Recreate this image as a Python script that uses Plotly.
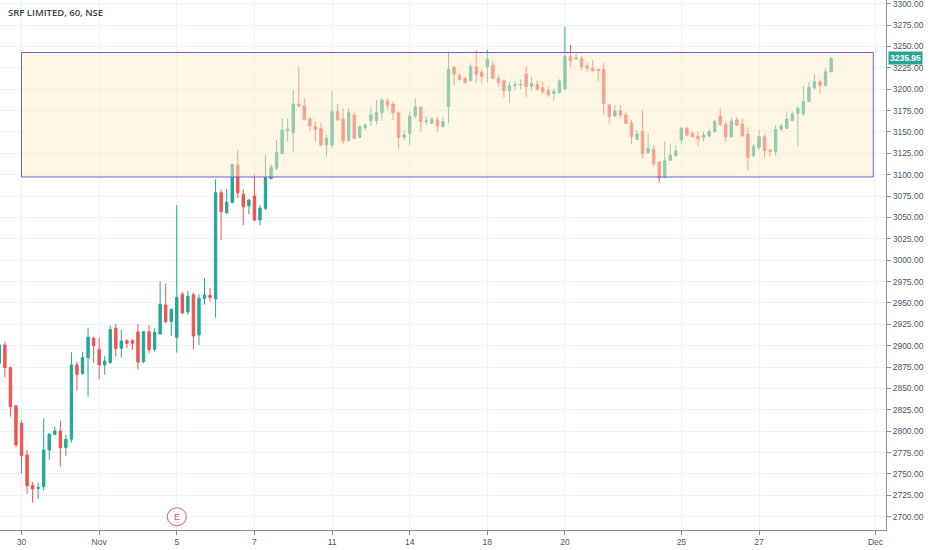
import plotly.graph_objects as go

# SRF LIMITED, 60 min bars, NSE. Oct 29 (last 4 bars) .. Nov 28 2019
# one entry per hourly bar, bar 0 = Oct 30 09:15
opens = [
    2879.4, 2900.9, 2874.3, 2829.5,
    2809.2, 2772.2, 2736.3, 2733.0, 2735.1, 2778.0, 2796.4,
    2800.3, 2780.8, 2790.5, 2877.5, 2867.6, 2886.0, 2908.7,
    2895.5, 2877.5, 2880.1, 2920.3, 2897.0, 2905.8, 2905.8,
    2916.0, 2881.3, 2916.4, 2895.7, 2913.6, 2947.6, 2928.1,
    2909.7, 2960.2, 2939.5, 2959.5, 2912.5, 2955.0, 2958.8,
    2954.6, 3079.0, 3055.6, 3067.7, 3111.3, 3077.1, 3063.4,
    3075.1, 3047.0, 3060.7, 3095.6, 3107.4, 3124.9, 3151.4,
    3149.1, 3182.6, 3180.3, 3165.1, 3156.1, 3154.2, 3134.7,
    3134.7, 3173.7, 3165.1, 3139.7, 3169.8, 3143.6, 3154.9,
    3163.1, 3163.1, 3172.5, 3186.1, 3182.6, 3172.5, 3143.6,
    3148.3, 3168.6, 3178.7, 3162.0, 3160.0, 3163.9, 3156.1,
    3179.5, 3225.5, 3215.8, 3212.7, 3209.9, 3226.3, 3219.7,
    3226.3, 3228.3, 3212.7, 3209.9, 3198.2, 3204.1, 3204.9,
    3217.7, 3202.9, 3205.6, 3201.7, 3198.2, 3195.1, 3195.9,
    3200.2, 3238.0, 3235.3, 3236.0, 3227.1, 3224.4, 3223.2,
    3223.2, 3181.5, 3168.6, 3174.8, 3169.8, 3160.0, 3141.3,
    3150.3, 3125.7, 3129.6, 3114.8, 3097.0, 3116.7, 3122.1,
    3140.5, 3154.2, 3148.3, 3145.2, 3143.6, 3145.2, 3150.3,
    3168.6, 3158.8, 3144.4, 3163.9, 3159.2, 3147.5, 3122.1,
    3132.0, 3144.4, 3128.8, 3126.9, 3153.0, 3154.2, 3163.1,
    3171.7, 3170.9, 3185.4, 3201.4, 3208.8, 3204.1, 3220.5,
]
highs = [
    2905.0, 2904.8, 2875.5, 2830.5,
    2813.0, 2778.0, 2740.2, 2739.8, 2815.0, 2797.5, 2805.3,
    2812.3, 2795.6, 2892.3, 2881.4, 2892.3, 2921.0, 2910.6,
    2909.0, 2888.0, 2923.5, 2925.3, 2918.3, 2907.5, 2908.0,
    2925.3, 2916.8, 2924.0, 2920.4, 2974.9, 2972.9, 2943.5,
    3064.6, 2963.1, 2964.0, 2962.0, 2960.0, 2979.0, 2967.5,
    3094.6, 3082.9, 3083.3, 3113.0, 3128.9, 3082.9, 3071.0,
    3100.8, 3064.5, 3123.0, 3112.0, 3140.5, 3165.9, 3165.9,
    3199.0, 3226.3, 3189.3, 3167.8, 3162.0, 3160.8, 3146.4,
    3198.2, 3182.6, 3177.6, 3177.6, 3173.7, 3158.0, 3160.0,
    3178.7, 3187.3, 3189.3, 3189.3, 3185.4, 3173.7, 3152.2,
    3173.7, 3189.3, 3180.3, 3167.8, 3167.8, 3167.8, 3167.8,
    3242.7, 3227.1, 3219.3, 3213.8, 3230.2, 3245.0, 3223.2,
    3245.8, 3233.3, 3216.6, 3211.5, 3208.8, 3209.9, 3211.5,
    3226.3, 3214.6, 3209.9, 3208.8, 3202.9, 3201.0, 3211.5,
    3273.1, 3251.7, 3241.1, 3238.8, 3231.0, 3234.1, 3224.4,
    3231.0, 3182.6, 3181.5, 3181.5, 3173.7, 3164.0, 3152.2,
    3175.2, 3148.3, 3134.3, 3115.2, 3139.0, 3136.0, 3134.7,
    3156.1, 3156.1, 3150.3, 3150.3, 3150.3, 3153.0, 3164.0,
    3177.6, 3162.0, 3167.0, 3167.8, 3165.9, 3155.3, 3135.8,
    3153.0, 3147.5, 3129.6, 3158.0, 3160.0, 3173.7, 3173.7,
    3180.3, 3203.7, 3208.8, 3217.7, 3211.5, 3224.4, 3238.0,
]
lows = [
    2874.0, 2863.0, 2817.0, 2781.0,
    2750.7, 2726.6, 2716.4, 2720.7, 2730.5, 2766.3, 2795.0,
    2758.5, 2771.0, 2786.6, 2847.4, 2866.0, 2840.4, 2880.0,
    2860.6, 2866.0, 2879.0, 2887.1, 2886.3, 2897.0, 2895.0,
    2872.3, 2879.4, 2891.0, 2893.0, 2913.0, 2926.0, 2911.5,
    2891.8, 2936.6, 2936.0, 2895.7, 2900.8, 2948.0, 2951.5,
    2932.7, 3023.6, 3054.0, 3066.0, 3072.4, 3041.0, 3054.0,
    3045.5, 3041.0, 3058.5, 3094.5, 3105.5, 3124.9, 3138.6,
    3126.9, 3178.5, 3163.0, 3151.4, 3138.6, 3132.7, 3121.0,
    3130.8, 3163.1, 3135.8, 3138.6, 3141.3, 3142.5, 3152.2,
    3156.9, 3159.2, 3163.1, 3176.4, 3163.9, 3130.8, 3139.7,
    3134.7, 3165.9, 3150.0, 3158.0, 3159.2, 3150.3, 3155.3,
    3160.0, 3204.9, 3209.9, 3206.8, 3209.9, 3207.6, 3206.8,
    3207.6, 3211.5, 3202.9, 3190.4, 3184.2, 3199.0, 3199.8,
    3190.4, 3198.2, 3198.2, 3194.3, 3191.2, 3186.5, 3195.1,
    3199.0, 3226.3, 3233.3, 3221.6, 3220.5, 3220.5, 3208.8,
    3169.8, 3160.0, 3167.8, 3165.9, 3159.2, 3135.8, 3140.5,
    3119.0, 3124.5, 3109.3, 3090.6, 3096.5, 3116.3, 3121.0,
    3135.8, 3145.2, 3143.6, 3133.5, 3138.6, 3144.4, 3149.1,
    3156.9, 3138.6, 3143.6, 3156.9, 3145.2, 3105.4, 3120.2,
    3128.8, 3121.0, 3121.0, 3121.8, 3151.4, 3154.2, 3163.1,
    3133.5, 3168.6, 3185.4, 3199.8, 3194.3, 3202.9, 3219.7,
]
closes = [
    2900.9, 2874.3, 2828.7, 2783.9,
    2771.4, 2736.3, 2732.4, 2734.0, 2778.0, 2796.4, 2800.3,
    2780.8, 2790.5, 2877.5, 2866.5, 2886.0, 2910.0, 2900.0,
    2877.5, 2882.0, 2918.8, 2896.5, 2905.4, 2902.7, 2902.7,
    2880.8, 2916.4, 2895.5, 2915.7, 2948.5, 2928.1, 2942.5,
    2956.5, 2938.5, 2957.8, 2911.3, 2955.5, 2959.3, 2956.3,
    3079.0, 3056.8, 3067.7, 3112.1, 3079.0, 3062.6, 3070.4,
    3047.0, 3060.7, 3096.5, 3108.6, 3126.2, 3152.2, 3153.4,
    3182.6, 3180.3, 3164.7, 3156.9, 3153.0, 3134.7, 3142.5,
    3173.7, 3163.9, 3139.7, 3172.5, 3142.5, 3156.1, 3158.0,
    3169.8, 3172.5, 3187.3, 3181.4, 3172.5, 3143.6, 3146.4,
    3168.6, 3179.5, 3162.0, 3163.1, 3164.7, 3156.9, 3162.0,
    3223.2, 3217.7, 3211.5, 3207.6, 3226.3, 3217.7, 3214.6,
    3234.9, 3212.7, 3207.6, 3198.2, 3204.1, 3205.6, 3205.6,
    3202.9, 3206.8, 3199.8, 3197.1, 3193.2, 3197.1, 3209.5,
    3238.0, 3233.3, 3236.8, 3226.3, 3224.4, 3221.6, 3221.6,
    3183.4, 3167.8, 3174.6, 3169.8, 3160.0, 3144.4, 3147.5,
    3124.9, 3130.4, 3112.8, 3097.0, 3116.3, 3122.5, 3127.6,
    3154.2, 3146.4, 3144.4, 3141.7, 3146.4, 3150.3, 3162.0,
    3158.8, 3144.4, 3162.7, 3158.0, 3145.2, 3120.2, 3132.7,
    3144.4, 3128.0, 3126.9, 3153.0, 3156.9, 3165.1, 3170.9,
    3177.6, 3185.4, 3202.1, 3208.8, 3204.1, 3220.5, 3235.95,
]

first_bar = -4  # the four Oct 29 bars sit left of bar 0
bars = list(range(first_bar, first_bar + len(closes)))

# time-scale labels, by bar index of the first bar of that day
tick_bars = [0, 14, 28, 42, 56, 70, 84, 98, 119, 133, 154]
tick_labels = ["30", "Nov", "5", "7", "11", "14", "18", "20", "25", "27", "Dec"]

# drawn rectangle (range zone)
zone_start, zone_end = 0, 153.6
zone_low, zone_high = 3097.3, 3242.9

# earnings event marker
earnings_bars = [28]

up, down = "#26a69a", "#ef5350"
grid = "#eef1f5"
axis_col = "#8a8e97"
txt = "#4f5460"
font = "Liberation Sans"

fig = go.Figure()
fig.add_trace(go.Candlestick(
    x=bars, open=opens, high=highs, low=lows, close=closes,
    increasing=dict(line=dict(color=up, width=1), fillcolor=up),
    decreasing=dict(line=dict(color=down, width=1), fillcolor=down),
    whiskerwidth=0, showlegend=False, hoverinfo="skip",
))

fig.add_shape(
    type="rect", xref="x", yref="y",
    x0=zone_start, x1=zone_end, y0=zone_low, y1=zone_high,
    fillcolor="rgba(255,240,200,0.5)", line=dict(color="#6f60d2", width=1),
    layer="above",
)

for b in earnings_bars:
    fig.add_shape(
        type="circle", xref="x", yref="paper",
        xsizemode="pixel", ysizemode="pixel", xanchor=b, yanchor=0.025,
        x0=-9.5, x1=9.5, y0=-9, y1=9,
        line=dict(color="#e3566b", width=1), fillcolor="white",
    )
    fig.add_annotation(
        x=b, y=0.025, xref="x", yref="paper", yanchor="middle", text="E",
        showarrow=False, font=dict(family=font, size=9, color="#e3566b"),
    )

fig.add_annotation(
    x=0.007, y=0.977, xref="paper", yref="paper", xanchor="left", yanchor="middle",
    text="SRF LIMITED, 60, NSE", showarrow=False,
    font=dict(family="Open Sans", size=9.5, color="#3b3f48", weight=600),
)

# last price tag on the price scale
fig.add_annotation(
    x=1, y=closes[-1], xref="paper", yref="y", xanchor="left", yanchor="middle",
    xshift=2, text=f"{closes[-1]:.2f}", showarrow=False,
    bgcolor=up, borderpad=1,
    font=dict(family=font, size=8.5, color="white", weight="bold"),
)

fig.update_layout(
    template="none",
    width=932, height=550,
    margin=dict(l=0, r=46, t=0, b=20),
    paper_bgcolor="white", plot_bgcolor="white",
    boxgap=0.38,
    showlegend=False,
    xaxis=dict(
        range=[-3.88, 155.9], rangeslider=dict(visible=False),
        tickvals=tick_bars, ticktext=tick_labels,
        showgrid=True, gridcolor=grid, gridwidth=1, zeroline=False,
        showline=True, linecolor=axis_col, linewidth=1,
        ticks="outside", ticklen=4, tickcolor=axis_col,
        tickfont=dict(family=font, size=8.5, color=txt),
        automargin=False,
    ),
    yaxis=dict(
        range=[2684.4, 3304.3], side="right", dtick=25, tickformat=".2f",
        showgrid=True, gridcolor=grid, gridwidth=1, zeroline=False,
        showline=True, linecolor=axis_col, linewidth=1,
        ticks="outside", ticklen=4, tickcolor=axis_col,
        tickfont=dict(family=font, size=8.5, color=txt),
        ticklabeloverflow="allow",
        automargin=False,
    ),
)

# the page's default body margin would push the chart off the window edge
fig.write_html(
    "out.html",
    config={"displayModeBar": False},
    post_script="document.body.style.margin='0';",
)
